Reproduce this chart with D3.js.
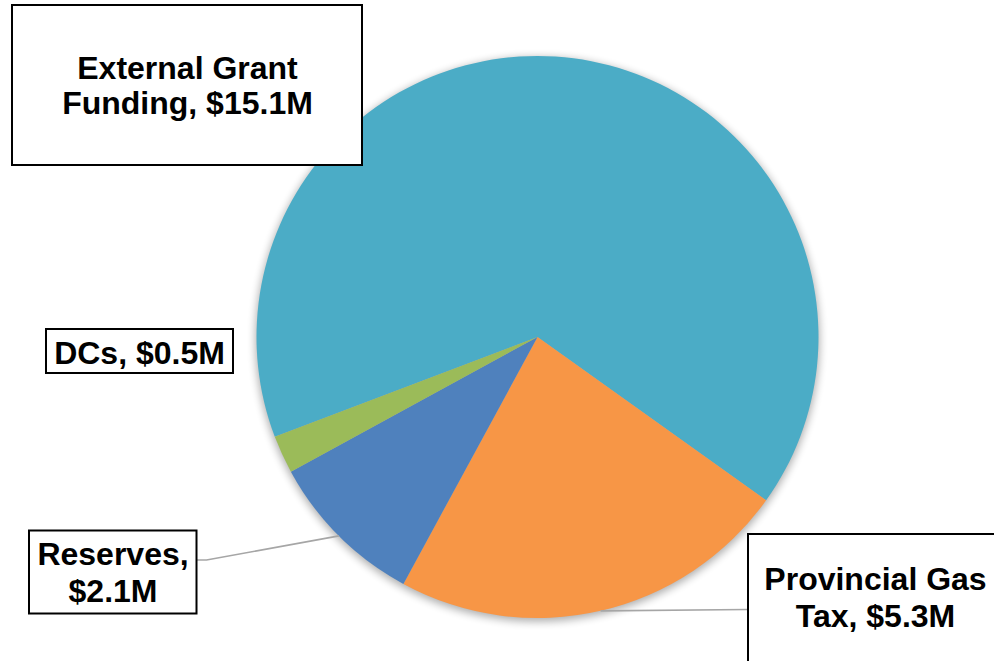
<!DOCTYPE html>
<html>
<head>
<meta charset="utf-8">
<script src="https://cdn.jsdelivr.net/npm/d3@7"></script>
<style>
  html, body { margin: 0; padding: 0; background: #fff; }
  svg { display: block; }
  .lbl { font-family: "Liberation Sans", Arial, sans-serif; font-weight: bold; font-size: 32px; fill: #000; }
</style>
</head>
<body>
<svg id="chart" width="994" height="661"></svg>
<script>
// Funding sources ($ millions)
const categories = ["External Grant", "Provincial Gas Tax", "Reserves", "DCs"];
const values = [15.1, 5.3, 2.1, 0.5];
const labelLines = [
  ["External Grant", "Funding, $15.1M"],
  ["Provincial Gas", "Tax, $5.3M"],
  ["Reserves,", "$2.1M"],
  ["DCs, $0.5M"]
];
const colors = ["#4BACC6", "#F79646", "#4F81BD", "#9BBB59"];

// Layout of the pie and the callout boxes
const W = 994, H = 661;
const cx = 537.5, cy = 337, R = 281;
const startDeg = 249.2;
const boxes = [
  { x: 12, y: 5, w: 350, h: 160, tx: 187.5, base: 78.5, lh: 35.5, leader: null },
  { x: 748, y: 534, w: 260, h: 140, tx: 875.5, base: 590, lh: 36.5, leader: "horiz" },
  { x: 29, y: 530.5, w: 167.5, h: 83, tx: 113, base: 565, lh: 36.5, leader: "kink" },
  { x: 46, y: 329, w: 187, h: 44, tx: 139.5, base: 363.5, lh: 0, leader: null }
];

const svg = d3.select("#chart");
const defs = svg.append("defs");
const shadow = defs.append("filter").attr("id", "pieShadow")
  .attr("x", "-20%").attr("y", "-20%").attr("width", "140%").attr("height", "140%");
shadow.append("feGaussianBlur").attr("stdDeviation", 4.5);

const g = svg.append("g").attr("transform", `translate(${cx},${cy})`);

const pie = d3.pie().sort(null).value(d => d)
  .startAngle(startDeg * Math.PI / 180)
  .endAngle(startDeg * Math.PI / 180 + 2 * Math.PI);
const arcs = pie(values);
const arc = d3.arc().innerRadius(0).outerRadius(R);
const edge = d3.arc().innerRadius(R).outerRadius(R);

// soft shadow behind the pie
g.append("circle")
  .attr("cx", 0).attr("cy", 2.5).attr("r", R + 1)
  .attr("fill", "#000").attr("opacity", 0.32)
  .attr("filter", "url(#pieShadow)");

g.selectAll("path.slice")
  .data(arcs)
  .join("path")
  .attr("class", "slice")
  .attr("d", arc)
  .attr("fill", (d, i) => colors[i]);

// leader lines from slice edge to callouts
const leaders = svg.append("g")
  .attr("fill", "none").attr("stroke", "#A6A6A6").attr("stroke-width", 1.6);
arcs.forEach((d, i) => {
  const b = boxes[i];
  if (!b.leader) return;
  const [px, py] = edge.centroid(d);
  const sx = cx + px, sy = cy + py;
  let pts;
  if (b.leader === "kink") {
    const ey = b.y + 29.5;
    pts = [[sx, sy], [b.x + b.w + 10, ey], [b.x + b.w, ey]];
  } else {
    pts = [[sx, sy], [b.x, b.y + 75.5]];
  }
  leaders.append("path").attr("d", d3.line()(pts));
});

// callout boxes
const lab = svg.append("g");
boxes.forEach((b, i) => {
  lab.append("rect")
    .attr("x", b.x).attr("y", b.y).attr("width", b.w).attr("height", b.h)
    .attr("fill", "#fff").attr("stroke", "#000").attr("stroke-width", 2);
  const t = lab.append("text").attr("class", "lbl").attr("text-anchor", "middle");
  labelLines[i].forEach((line, k) => {
    t.append("tspan").attr("x", b.tx).attr("y", b.base + k * b.lh).text(line);
  });
});
</script>
</body>
</html>
